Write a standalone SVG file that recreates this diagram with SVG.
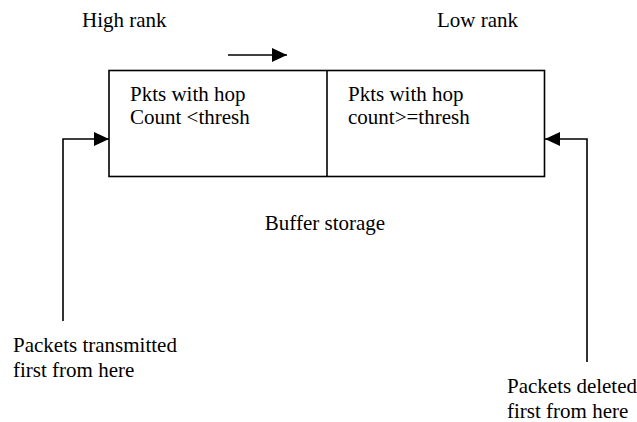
<svg xmlns="http://www.w3.org/2000/svg" width="637" height="422" viewBox="0 0 637 422">
<style>
text{font-family:"Liberation Serif","Times New Roman","DejaVu Serif",serif;font-size:21px;fill:#000}
.ln{fill:none;stroke:#000;stroke-width:1.6}
</style>
<defs>
<marker id="ah" markerUnits="userSpaceOnUse" markerWidth="16" markerHeight="14" refX="15" refY="7" orient="auto">
<path d="M0,0 L15,7 L0,14 Z" fill="#000"/>
</marker>
</defs>
<rect width="637" height="422" fill="#fff"/>
<g id="labels">
<text x="82" y="27">High rank</text>
<text x="437" y="27">Low rank</text>
<text x="325" y="230" text-anchor="middle">Buffer storage</text>
</g>
<g id="buffer">
<rect class="ln" x="109" y="70.5" width="435.5" height="106"/>
<line class="ln" x1="327" y1="70.5" x2="327" y2="176.5"/>
</g>
<g id="high-section">
<text x="130" y="101">Pkts with hop</text>
<text x="130" y="124">Count &lt;thresh</text>
</g>
<g id="low-section">
<text x="348" y="101">Pkts with hop</text>
<text x="348" y="124">count&gt;=thresh</text>
</g>
<g id="transmit-label">
<text x="13" y="352">Packets transmitted</text>
<text x="13" y="377">first from here</text>
</g>
<g id="delete-label">
<text x="507" y="393">Packets deleted</text>
<text x="507" y="418">first from here</text>
</g>
<g id="connectors">
<line class="ln" x1="228" y1="55" x2="287" y2="55" marker-end="url(#ah)"/>
<polyline class="ln" points="63,321 63,139 109,139" marker-end="url(#ah)"/>
<polyline class="ln" points="587,362 587,139 545,139" marker-end="url(#ah)"/>
</g>
</svg>
